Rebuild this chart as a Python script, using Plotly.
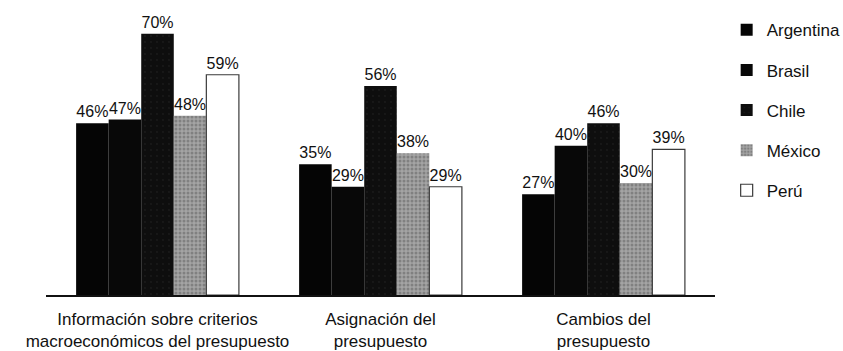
import plotly.graph_objects as go

categories = [
    "Información sobre criterios<br>macroeconómicos del presupuesto",
    "Asignación del<br>presupuesto",
    "Cambios del<br>presupuesto",
]
countries = ["Argentina", "Brasil", "Chile", "México", "Perú"]
values = {
    "Argentina": [46, 35, 27],
    "Brasil": [47, 29, 40],
    "Chile": [70, 56, 46],
    "México": [48, 38, 30],
    "Perú": [59, 29, 39],
}

styles = {
    "Argentina": dict(color="#050505", line=dict(width=0)),
    "Brasil": dict(color="#080808", line=dict(width=0)),
    "Chile": dict(color="#101010", line=dict(width=0),
                  pattern=dict(shape=".", fgcolor="#262626", bgcolor="#0e0e0e",
                               size=6, solidity=0.08)),
    "México": dict(color="#8c8c8c", line=dict(width=0),
                   pattern=dict(shape=".", fgcolor="#5c5c5c", bgcolor="#a4a4a4",
                                size=4, solidity=0.45)),
    "Perú": dict(color="#ffffff", line=dict(width=1.2, color="#3a3a3a")),
}

FONT = "Liberation Sans"
INK = "#111111"

fig = go.Figure()
for c in countries:
    fig.add_trace(go.Bar(
        name=c,
        x=categories,
        y=values[c],
        marker=styles[c],
        text=[f"{v}%" for v in values[c]],
        textposition="outside",
        textfont=dict(family=FONT, size=16, color=INK),
        cliponaxis=False,
        legendgroup=c,
    ))

fig.update_layout(
    width=843,
    height=351,
    margin=dict(l=46, r=128, t=15, b=56),
    barmode="group",
    bargap=0.27,
    bargroupgap=0,
    plot_bgcolor="white",
    paper_bgcolor="white",
    font=dict(family=FONT, size=16, color=INK),
    showlegend=True,
    legend=dict(
        xref="container", yref="container",
        x=0.862, y=0.965, xanchor="left", yanchor="top",
        font=dict(family=FONT, size=17, color=INK),
        tracegroupgap=15,
        maxheight=340,
        bgcolor="rgba(0,0,0,0)",
    ),
)
fig.update_xaxes(
    showline=True, linecolor=INK, linewidth=1.5,
    showgrid=False, ticks="", ticklabelstandoff=8, automargin=False,
    tickfont=dict(family=FONT, size=17, color=INK),
)
fig.update_yaxes(range=[0, 75], visible=False, showgrid=False, automargin=False)

fig.write_html("out.html")
